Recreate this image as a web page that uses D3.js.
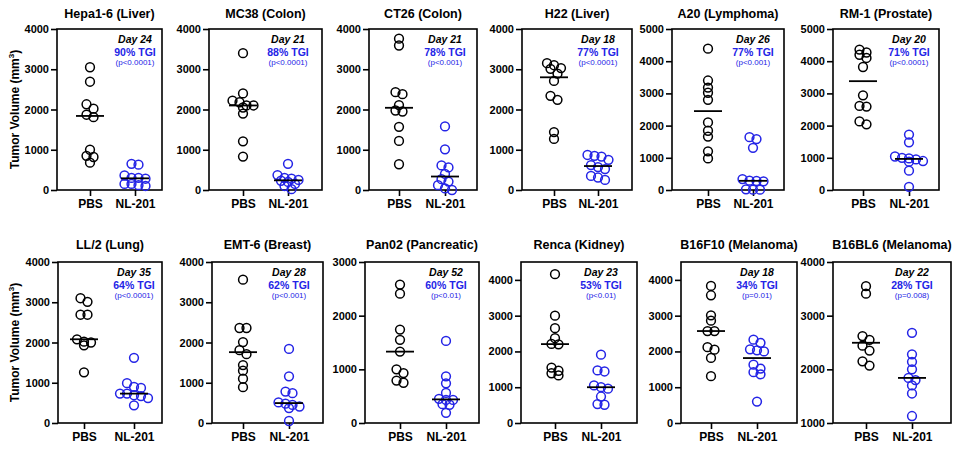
<!DOCTYPE html>
<html><head><meta charset="utf-8">
<script src="https://cdn.jsdelivr.net/npm/d3@7"></script>
<style>
html,body{margin:0;padding:0;background:#fff;}
svg{display:block;font-family:"Liberation Sans",Arial,Helvetica,sans-serif;}
</style></head>
<body><svg id="c" width="960" height="449"></svg>
<script>
// ---------------- DATA ----------------
const groups = ["PBS", "NL-201"];
const titles = ["Hepa1-6 (Liver)", "MC38 (Colon)", "CT26 (Colon)", "H22 (Liver)", "A20 (Lymphoma)", "RM-1 (Prostate)",
                "LL/2 (Lung)", "EMT-6 (Breast)", "Pan02 (Pancreatic)", "Renca (Kidney)", "B16F10 (Melanoma)", "B16BL6 (Melanoma)"];
const dayLabels = ["Day 24", "Day 21", "Day 21", "Day 18", "Day 26", "Day 20", "Day 35", "Day 28", "Day 52", "Day 23", "Day 18", "Day 22"];
const tgiLabels = ["90% TGI", "88% TGI", "78% TGI", "77% TGI", "77% TGI", "71% TGI", "64% TGI", "62% TGI", "60% TGI", "53% TGI", "34% TGI", "28% TGI"];
const pLabels = ["(p<0.0001)", "(p<0.0001)", "(p<0.001)", "(p<0.0001)", "(p<0.001)", "(p<0.0001)",
                 "(p<0.0001)", "(p<0.001)", "(p<0.01)", "(p<0.01)", "(p=0.01)", "(p=0.008)"];
const yMin = [0, 0, 0, 0, 0, 0, 0, 0, 0, 0, 0, 1000];
const yMax = [4000, 4000, 4000, 4000, 5000, 5000, 4000, 4000, 3000, 4500, 4500, 4000];
const yTicks = [
  [0, 1000, 2000, 3000, 4000], [0, 1000, 2000, 3000, 4000], [0, 1000, 2000, 3000, 4000],
  [0, 1000, 2000, 3000, 4000], [0, 1000, 2000, 3000, 4000, 5000], [0, 1000, 2000, 3000, 4000, 5000],
  [0, 1000, 2000, 3000, 4000], [0, 1000, 2000, 3000, 4000], [0, 1000, 2000, 3000],
  [0, 1000, 2000, 3000, 4000], [0, 1000, 2000, 3000, 4000], [1000, 2000, 3000, 4000]
];
const pbsValues = [
  [3050, 2690, 2130, 2020, 1870, 1810, 1000, 850, 820, 680],
  [3400, 2400, 2220, 2180, 2100, 2100, 2050, 1900, 1210, 830],
  [3760, 3590, 2430, 2380, 2110, 1975, 1950, 1570, 1220, 640],
  [3150, 3100, 3030, 3010, 2890, 2710, 2340, 2240, 1440, 1270],
  [4390, 3400, 3180, 3020, 2800, 2100, 1840, 1660, 1200, 980],
  [4360, 4270, 4200, 4100, 3820, 2940, 2610, 2590, 2130, 2040],
  [3100, 3010, 2690, 2690, 2080, 2020, 2000, 1930, 1260],
  [3560, 2360, 2360, 2010, 1810, 1710, 1440, 1300, 1100, 890],
  [2580, 2410, 1740, 1550, 1330, 1000, 930, 790, 750],
  [4160, 3000, 2650, 2370, 2210, 2200, 1550, 1460, 1390, 1330],
  [3830, 3570, 3010, 2860, 2570, 2570, 2120, 2050, 1820, 1310],
  [3550, 3410, 2620, 2550, 2440, 2350, 2150, 2070]
];
const nlValues = [
  [650, 630, 360, 300, 300, 280, 150, 150, 120, 100],
  [650, 370, 300, 280, 250, 230, 200, 150, 100, 20],
  [1580, 1010, 610, 560, 400, 270, 210, 120, 40, 0],
  [870, 850, 830, 750, 620, 570, 520, 350, 310, 250],
  [1640, 1580, 1310, 340, 290, 280, 270, 20, 10, 10],
  [1720, 1480, 1040, 1000, 980, 950, 900, 880, 600, 100],
  [1620, 990, 900, 870, 730, 730, 690, 670, 620, 440],
  [1840, 1160, 780, 740, 510, 480, 450, 410, 370, 50],
  [1530, 870, 740, 560, 450, 430, 430, 350, 340, 190],
  [1910, 1470, 1440, 1050, 1000, 960, 740, 530, 510],
  [2330, 2240, 2060, 2030, 2000, 1630, 1520, 1420, 1360, 600],
  [2680, 2280, 2140, 2000, 1840, 1800, 1700, 1550, 1130]
];

// ---------------- LAYOUT ----------------
const boxLeft  = [57, 209, 369, 522, 672, 833, 58, 212, 365, 521, 681, 833];
const boxRight = [162, 322, 477, 632, 784, 939, 162, 323, 479, 637, 797, 951];
const xFirst   = [90, 243, 399, 554, 708, 863, 84, 243, 400, 555, 711, 866];
const xSecond  = [135, 288, 445, 598, 753, 909, 134, 289, 446, 601, 757, 912];
const rowTop = [29, 262], rowBottom = [190, 423], titleY = [17.5, 248.5];
const BLUE = "#2424e6";
const groupColor = ["#000", BLUE];

const svg = d3.select("#c");

function rowSpread(vals, y) {
  // GraphPad-like: cluster points of similar height into rows, spread each row symmetrically
  const idx = vals.map((v, i) => i).sort((a, b) => vals[b] - vals[a]);
  const off = new Array(vals.length).fill(0);
  let row = [], startY = null;
  const flush = () => {
    const n = row.length;
    row.forEach((k, j) => { off[k] = (j - (n - 1) / 2) * 7; });
    row = [];
  };
  idx.forEach(i => {
    const py = y(vals[i]);
    if (startY === null || Math.abs(py - startY) > 5 || row.length >= 5) { flush(); startY = py; }
    row.push(i);
  });
  flush();
  return off;
}

titles.forEach((title, i) => {
  const r = i < 6 ? 0 : 1;
  const L = boxLeft[i], R = boxRight[i], T = rowTop[r], B = rowBottom[r];
  const y = d3.scaleLinear().domain([yMin[i], yMax[i]]).range([B, T]);
  const x = d3.scalePoint().domain(groups).range([xFirst[i], xSecond[i]]);
  const g = svg.append("g");

  // title
  g.append("text").attr("x", (L + R) / 2).attr("y", titleY[r]).attr("text-anchor", "middle")
    .attr("font-size", 12.5).attr("font-weight", "bold").text(title);

  // y axis
  const ya = g.append("g").attr("transform", `translate(${L},0)`)
    .call(d3.axisLeft(y).tickValues(yTicks[i]).tickSize(6).tickSizeOuter(0).tickPadding(2).tickFormat(d3.format("d")));
  ya.select(".domain").remove();
  ya.selectAll(".tick line").attr("stroke-width", 1.6);
  ya.selectAll(".tick text").attr("font-size", 11).attr("font-weight", "bold").attr("fill", "#000")
    .attr("font-family", "Liberation Sans, Arial, sans-serif");

  // x axis
  const xa = g.append("g").attr("transform", `translate(0,${B})`)
    .call(d3.axisBottom(x).tickSize(6).tickSizeOuter(0).tickPadding(3));
  xa.select(".domain").remove();
  xa.selectAll(".tick line").attr("stroke-width", 1.6);
  xa.selectAll(".tick text").attr("font-size", 12).attr("font-weight", "bold").attr("fill", "#000")
    .attr("font-family", "Liberation Sans, Arial, sans-serif");

  // frame
  g.append("rect").attr("x", L).attr("y", T).attr("width", R - L).attr("height", B - T)
    .attr("fill", "none").attr("stroke", "#000").attr("stroke-width", 1.6);

  // points + medians
  [pbsValues[i], nlValues[i]].forEach((vals, gi) => {
    const cx = x(groups[gi]);
    const off = rowSpread(vals, y);
    g.append("g").selectAll("circle").data(vals).join("circle")
      .attr("cx", (d, k) => cx + off[k]).attr("cy", d => y(d)).attr("r", 4.4)
      .attr("fill", "none").attr("stroke", groupColor[gi]).attr("stroke-width", 1.5);
    const med = d3.median(vals);
    g.append("line").attr("x1", cx - 14).attr("x2", cx + 14).attr("y1", y(med)).attr("y2", y(med))
      .attr("stroke", "#000").attr("stroke-width", 1.8);
  });

  // annotations
  const ax = x(groups[1]);
  g.append("text").attr("x", ax).attr("y", T + 14).attr("text-anchor", "middle")
    .attr("font-size", 10.5).attr("font-weight", "bold").attr("font-style", "italic").text(dayLabels[i]);
  g.append("text").attr("x", ax).attr("y", T + 26.5).attr("text-anchor", "middle")
    .attr("font-size", 10.5).attr("font-weight", "bold").attr("fill", BLUE).text(tgiLabels[i]);
  g.append("text").attr("x", ax).attr("y", T + 35.5).attr("text-anchor", "middle")
    .attr("font-size", 8).attr("fill", BLUE).text(pLabels[i]);

  // y-axis title on first column
  if (i === 0 || i === 6) {
    const t = g.append("text").attr("transform", `translate(18.5,${(T + B) / 2}) rotate(-90)`)
      .attr("text-anchor", "middle").attr("font-size", 12).attr("font-weight", "bold");
    t.append("tspan").text("Tumor Volume (mm");
    t.append("tspan").attr("font-size", 8).attr("dy", -5).text("3");
    t.append("tspan").attr("dy", 5).text(")");
  }
});
</script></body></html>
